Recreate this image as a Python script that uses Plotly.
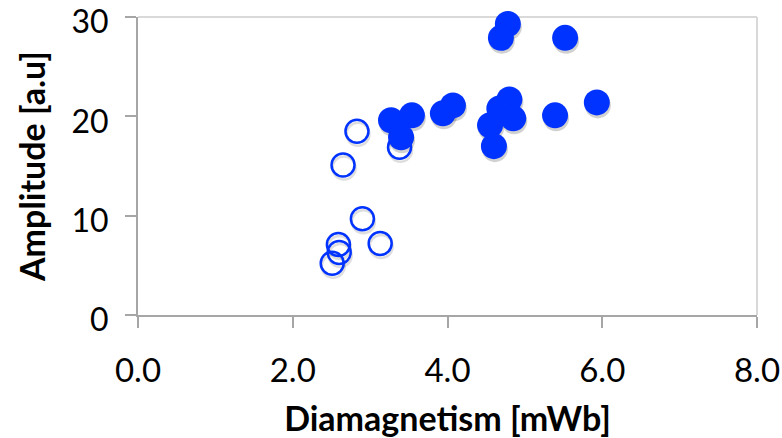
import plotly.graph_objects as go

# Filled markers: main measurement series
filled_x = [4.78, 4.69, 5.52, 4.07, 3.94, 4.80, 4.67, 4.85, 4.55, 4.60, 5.39, 5.93,
            3.27, 3.54, 3.40]
filled_y = [29.3, 27.9, 27.9, 21.1, 20.3, 21.7, 20.8, 19.8, 19.1, 17.0, 20.1, 21.4,
            19.6, 20.1, 17.9]

# Open markers: second series
open_x = [3.38, 2.83, 2.65, 2.90, 3.13, 2.59, 2.60, 2.51]
open_y = [16.9, 18.5, 15.1, 9.7, 7.2, 7.1, 6.3, 5.2]

x_ticks = [0, 2, 4, 6, 8]
x_ticktext = ["0.0", "2.0", "4.0", "6.0", "8.0"]
y_ticks = [0, 10, 20, 30]

BLUE = "#0033FF"
FONT = "Lato"
AXIS_GRAY = "#A6A6A6"
BORDER_GRAY = "#D9D9D9"

# plot area geometry (px) used to turn a small pixel shadow offset into data units
W, H = 782, 438
ML, MR, MT, MB = 138, 25, 17, 123
px_x = 8 / (W - ML - MR)
px_y = 30 / (H - MT - MB)
sdx, sdy = 1.0 * px_x, -3.0 * px_y

fig = go.Figure()

# light top / right frame of the plot area
fig.add_shape(type="line", xref="paper", yref="paper", x0=0, x1=1, y0=1, y1=1,
              line=dict(color=BORDER_GRAY, width=2), layer="below")
fig.add_shape(type="line", xref="paper", yref="paper", x0=1, x1=1, y0=0, y1=1,
              line=dict(color=BORDER_GRAY, width=2), layer="below")

# soft drop shadows under the markers
fig.add_trace(go.Scatter(
    x=[v + sdx for v in filled_x], y=[v + sdy for v in filled_y], mode="markers",
    marker=dict(size=26, color="rgba(0,0,0,0.18)", line=dict(width=0)),
    hoverinfo="skip", showlegend=False, cliponaxis=False))
fig.add_trace(go.Scatter(
    x=[v + sdx for v in open_x], y=[v + sdy for v in open_y], mode="markers",
    marker=dict(size=23, color="rgba(0,0,0,0)", line=dict(width=2.5, color="rgba(0,0,0,0.13)")),
    hoverinfo="skip", showlegend=False, cliponaxis=False))

fig.add_trace(go.Scatter(
    x=open_x, y=open_y, mode="markers",
    marker=dict(size=23, color="rgba(255,255,255,0)", line=dict(width=2.5, color=BLUE)),
    showlegend=False, cliponaxis=False))
fig.add_trace(go.Scatter(
    x=filled_x, y=filled_y, mode="markers",
    marker=dict(size=26, color=BLUE, line=dict(width=0)),
    showlegend=False, cliponaxis=False))

fig.update_layout(
    width=W, height=H,
    margin=dict(l=ML, r=MR, t=MT, b=MB),
    paper_bgcolor="white", plot_bgcolor="white",
    font=dict(family=FONT, color="black"),
    xaxis=dict(
        range=[0, 8], tickvals=x_ticks, ticktext=x_ticktext,
        showgrid=False, zeroline=False, automargin=False,
        showline=True, linecolor=AXIS_GRAY, linewidth=2,
        ticks="outside", ticklen=11, tickwidth=2, tickcolor=AXIS_GRAY,
        ticklabelstandoff=14, ticklabeloverflow="allow",
        tickfont=dict(size=33, family=FONT),
        title=dict(text="<b>Diamagnetism [mWb]</b>", font=dict(size=34, family=FONT), standoff=22),
    ),
    yaxis=dict(
        range=[0, 30], tickvals=y_ticks,
        showgrid=False, zeroline=False, automargin=False,
        showline=True, linecolor=AXIS_GRAY, linewidth=2,
        ticks="outside", ticklen=11, tickwidth=2, tickcolor=AXIS_GRAY,
        ticklabelstandoff=10, ticklabelshift=5, ticklabeloverflow="allow",
        tickfont=dict(size=32, family=FONT),
        title=dict(text="<b>Amplitude [a.u]</b>", font=dict(size=34, family=FONT), standoff=16),
    ),
)

fig.write_html("out.html")
